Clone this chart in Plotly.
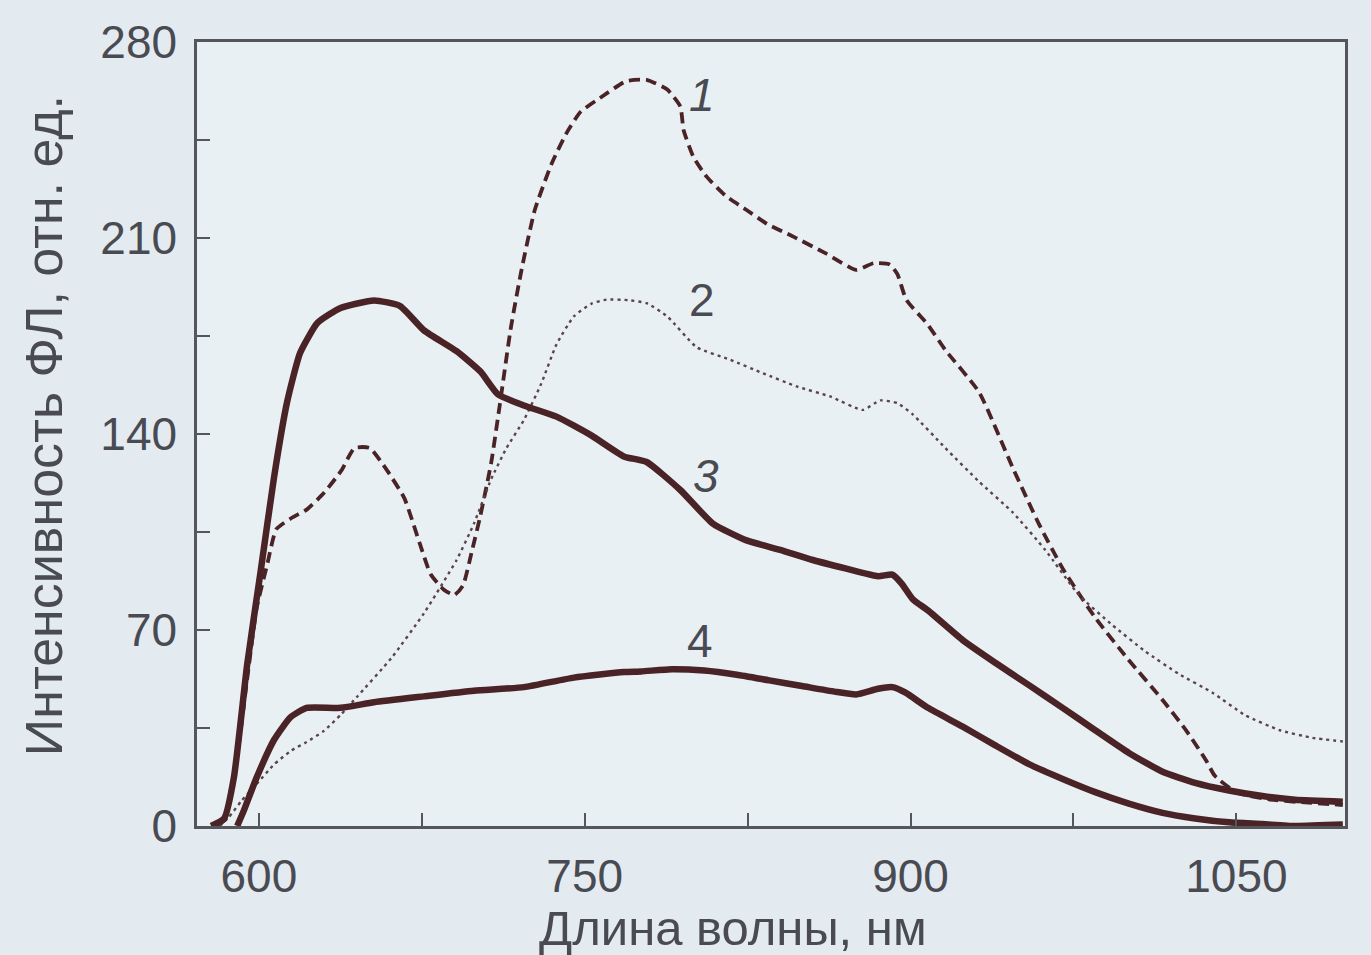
import plotly.graph_objects as go

# ---- data ----
wl1 = [580, 584, 590, 595, 599, 604, 608, 615, 622, 630, 638, 644, 651, 659, 667, 674, 679, 685,
       690, 694, 698, 702, 707, 711, 716, 721, 727, 735, 742, 748, 757, 769, 778.5, 788, 794, 795.5,
       800, 806, 815, 824.5, 834, 846, 861, 875, 883, 890.5, 894, 898, 908, 916, 931.5, 947, 959,
       970, 985, 1000, 1016, 1027, 1036, 1040, 1050, 1065, 1080, 1099]
int1 = [0, 2, 25, 55, 78, 94, 106, 110, 113, 119, 127, 135, 135, 127, 117, 101, 90, 84.5,
        82.5, 86, 98, 111, 130, 151, 178, 199, 220, 237, 248, 255, 260, 266, 266.5, 263, 257, 248.6,
        239, 232, 225, 220, 215, 210.5, 204.5, 198.6, 201, 200.5, 197, 188, 179, 170, 155, 128, 108,
        92, 74.4, 59.7, 45, 34, 23.5, 18, 12, 9.5, 8.5, 7.5]

wl2 = [582, 586, 592, 599, 607, 615, 622, 630, 638, 645, 661, 676, 691, 699, 707, 714, 722, 730,
       737, 745, 753, 760, 770, 778.5, 788, 801.5, 817, 832, 847.5, 863, 878, 886, 894, 901, 916,
       931.5, 947, 962, 977.5, 993, 1008, 1023.5, 1039, 1054, 1070, 1085, 1099]
int2 = [0, 3, 9, 15, 22, 27, 30, 34, 40, 46, 60, 76, 95, 108, 124, 135, 145, 158,
        172, 182, 186.5, 188, 187.8, 186.7, 182, 171, 166.5, 161.7, 157, 153.4, 148.6, 152, 151, 147, 135,
        123, 112, 98.6, 82.5, 71.7, 62.4, 54.3, 47.6, 39.6, 34.2, 31.5, 30.2]

wl3 = [578, 584, 588.5, 594.6, 600.8, 607, 613, 619, 627, 637.6, 653, 665, 676, 691, 702, 710,
       722, 737, 753, 768, 778.5, 794, 809, 824.5, 840, 855, 870, 885, 891.6, 896, 901, 908, 924,
       939, 954.5, 970, 985, 1000.5, 1016, 1031, 1046.6, 1062, 1077, 1099]
int3 = [0, 2.7, 17.4, 57.7, 91, 124.7, 151.5, 169, 179.7, 185, 187.7, 185.7, 177, 169.6, 162.3, 154.2,
        150.2, 146.2, 139.5, 132, 130, 120, 108, 102, 98.6, 95, 92, 89.2, 89.8, 86.5, 81, 77, 66.4,
        58.3, 50.3, 42.2, 34.2, 26.1, 19.4, 15.4, 12.7, 10.7, 9.4, 8.7]

wl4 = [590, 593, 599, 607, 614.6, 622, 637.6, 653, 676, 699, 722, 745, 768, 776, 790, 805, 820,
       835, 850, 865, 875, 885, 891.6, 897.7, 908, 924, 939, 954.5, 970, 985, 1000.5, 1016, 1031,
       1046.6, 1062, 1077, 1099]
int4 = [0, 5.4, 17.4, 30.8, 38.9, 42.2, 42.2, 44.2, 46.3, 48.3, 49.6, 53, 55, 55.2, 56, 55.5, 54,
        52, 50, 48, 47, 49, 49.6, 47.6, 42.2, 35.5, 28.8, 22.1, 16.8, 12.1, 8, 4.7, 2.7,
        1.3, 0.7, 0, 0.5]

curve_labels = ["<i>1</i>", "2", "<i>3</i>", "4"]
label_x = [804, 804, 806, 803]
label_y = [261, 188, 125, 66]

x_ticks = [600, 750, 900, 1050]
x_minor = [675, 825, 975]
y_ticks = [0, 70, 140, 210, 280]
y_minor = [35, 105, 175, 245]

x_title = "Длина волны, нм"
y_title = "Интенсивность ФЛ, отн. ед."

# ---- styling ----
ink = "#4a2326"
axis_col = "#55555c"
text_col = "#4a4a52"
font_family = "Liberation Sans, Arial, sans-serif"

fig = go.Figure()
fig.add_trace(go.Scatter(x=wl1, y=int1, mode="lines",
                         line=dict(color=ink, width=3.8, dash="11px,6px", shape="spline", smoothing=0.5)))
fig.add_trace(go.Scatter(x=wl2, y=int2, mode="lines",
                         line=dict(color="#5a4448", width=2.4, dash="3px,4px", shape="spline", smoothing=0.5)))
fig.add_trace(go.Scatter(x=wl3, y=int3, mode="lines",
                         line=dict(color=ink, width=6.5, shape="spline", smoothing=0.5)))
fig.add_trace(go.Scatter(x=wl4, y=int4, mode="lines",
                         line=dict(color=ink, width=6.5, shape="spline", smoothing=0.5)))

for i, t in enumerate(curve_labels):
    fig.add_annotation(x=label_x[i], y=label_y[i], text=t, showarrow=False,
                       xref="x", yref="y",
                       font=dict(family=font_family, size=46, color=text_col))

fig.add_annotation(x=(733 - 197) / 1148, y=0, xref="paper", yref="paper", yshift=-102,
                   text=x_title, showarrow=False, xanchor="center", yanchor="middle",
                   font=dict(family=font_family, size=49, color=text_col))
fig.add_annotation(x=0, y=0.51, xref="paper", yref="paper", xshift=-153,
                   text=y_title, showarrow=False, textangle=-90, xanchor="center", yanchor="middle",
                   font=dict(family=font_family, size=52, color=text_col))

fig.update_layout(
    width=1371, height=955,
    margin=dict(l=197, r=26, t=42, b=129, pad=0),
    paper_bgcolor="#e3ebf0",
    plot_bgcolor="#e9f0f4",
    showlegend=False,
    font=dict(family=font_family, size=46, color=text_col),
)
fig.update_xaxes(range=[571.5, 1100], tickvals=x_ticks, ticktext=[str(v) for v in x_ticks],
                 ticks="inside", ticklen=13, tickwidth=2, tickcolor=axis_col,
                 minor=dict(tickvals=x_minor, ticks="inside", ticklen=13, tickwidth=2, tickcolor=axis_col),
                 showline=True, linecolor=axis_col, linewidth=2.5, mirror=True,
                 showgrid=False, zeroline=False, ticklabelstandoff=8,
                 tickfont=dict(family=font_family, size=46, color=text_col))
fig.update_yaxes(range=[0, 280], tickvals=y_ticks, ticktext=[str(v) for v in y_ticks],
                 ticks="inside", ticklen=13, tickwidth=2, tickcolor=axis_col,
                 minor=dict(tickvals=y_minor, ticks="inside", ticklen=13, tickwidth=2, tickcolor=axis_col),
                 showline=True, linecolor=axis_col, linewidth=2.5, mirror=True,
                 showgrid=False, zeroline=False, ticklabelstandoff=8,
                 tickfont=dict(family=font_family, size=46, color=text_col))

fig.write_html("out.html")
